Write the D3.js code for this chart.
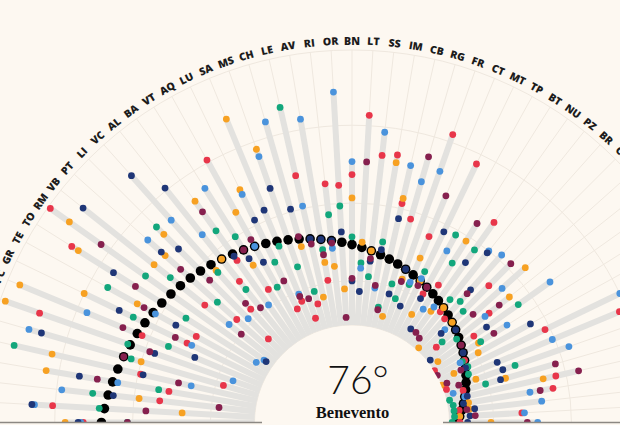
<!DOCTYPE html>
<html><head><meta charset="utf-8">
<script src="https://cdn.jsdelivr.net/npm/d3@7"></script>
<style>
html,body{margin:0;padding:0;background:#fdf8f1;overflow:hidden;}
svg{display:block;}
</style></head><body>
<svg id="chart" width="620" height="425"></svg>
<script>
// Provinces in ranking order (overall rank 48 .. 104), Benevento selected (76°)
const provinces = ["PV","SP","NO","CR","PE","MN","SI","PC","GR","TE","TO","RM","VB","PT","LI","VC","AL","BA","VT","AQ","LU","SA","MS","CH","LE","AV","RI","OR","BN","LT","SS","IM","CB","RG","FR","CT","MT","TP","BT","NU","PZ","BR","CS","CE","AG","SR","NA","PA","ME","EN","RC","VV","TA","FG","KR","CL","SU"];
const overallRank = [48,49,50,51,52,53,54,55,56,57,58,59,60,61,62,63,64,65,66,67,68,69,70,71,72,73,74,75,76,77,78,79,80,81,82,83,84,85,86,87,88,89,90,91,92,93,94,95,96,97,98,99,100,101,102,103,104];
const rankRicchezza = [41,29,70,73,61,93,17,57,74,76,17,2,72,85,99,86,75,68,84,29,96,94,102,97,47,89,52,53,49,26,41,40,58,63,27,67,34,88,82,50,90,91,70,101,77,87,107,95,62,33,106,100,64,66,103,79,103];
const rankAffari = [34,79,62,25,26,60,3,6,30,50,20,11,47,48,42,66,64,40,73,52,45,18,33,74,95,82,84,93,58,75,78,43,56,102,86,76,84,97,62,92,88,106,90,55,67,104,87,89,101,107,94,83,69,99,99,103,91];
const rankAmbiente = [58,47,44,69,11,56,53,68,51,37,69,47,55,75,38,67,79,54,60,85,76,71,81,92,20,77,64,61,73,83,88,74,99,89,94,87,80,62,72,63,84,82,84,98,93,66,86,96,95,96,78,91,106,105,105,105,106];
const rankDemografia = [40,22,32,53,81,15,96,34,76,58,101,103,84,39,88,40,52,89,38,67,47,91,36,24,59,26,77,17,44,85,32,92,43,48,42,86,83,69,93,90,60,58,94,67,79,51,74,97,30,61,56,104,100,75,71,78,73];
const rankGiustizia = [39,21,52,38,62,20,64,79,45,67,36,104,12,46,50,17,29,66,70,74,58,56,49,59,72,73,74,71,90,94,82,77,64,93,82,96,63,90,102,69,61,76,96,91,106,81,94,66,96,84,83,85,99,101,97,99,100];
const rankCultura = [58,65,93,45,76,53,62,49,69,53,46,26,90,56,67,83,88,45,66,64,84,92,94,70,74,79,75,104,89,44,81,91,100,38,87,50,86,85,54,102,103,78,58,82,72,93,80,107,98,105,101,63,55,71,100,97,77];
const categoryNames = ["Ricchezza e consumi","Affari e lavoro","Ambiente e servizi","Demografia e società","Giustizia e sicurezza","Cultura e tempo libero"];
const categoryColors = ["#e8364a","#f7a122","#13a77c","#4a93dc","#1f3677","#86204e"];
const selectedName = "Benevento";
const selectedRank = 76;

const categories = [rankRicchezza, rankAffari, rankAmbiente, rankDemografia, rankGiustizia, rankCultura]
  .map((vals, i) => ({name: categoryNames[i], color: categoryColors[i], values: vals}));

const W = 620, H = 425;
const cx = 352, cy = 422.5;
const svg = d3.select("#chart");

const r = d3.scaleLinear().domain([1, 107]).range([372.5, 97.5]);
const slots = 112;
const angle = d3.scaleLinear().domain([selectedRank, selectedRank + slots]).range([0, 2 * Math.PI]);

const px = (a, rad) => cx + rad * Math.sin(a);
const py = (a, rad) => cy - rad * Math.cos(a);

svg.append("rect").attr("width", W).attr("height", H).attr("fill", "#fdf8f1");

svg.append("defs").append("clipPath").attr("id", "clip")
  .append("rect").attr("x", 0).attr("y", 0).attr("width", W).attr("height", cy);

const g = svg.append("g").attr("clip-path", "url(#clip)");

const rows = provinces.map((p, i) => ({
  code: p, overall: overallRank[i], a: angle(overallRank[i]),
  vals: categories.map(c => ({color: c.color, rank: c.values[i]}))
}));

// rings
const ringRanks = [1, 30, 60, 90, 107];
g.selectAll("circle.ring").data(ringRanks).join("circle")
  .attr("cx", cx).attr("cy", cy).attr("r", d => r(d))
  .attr("fill", "none").attr("stroke", "#efe8df").attr("stroke-width", 1);

// radial grid lines
g.selectAll("line.grid").data(rows).join("line")
  .attr("x1", d => px(d.a, r(107))).attr("y1", d => py(d.a, r(107)))
  .attr("x2", d => px(d.a, r(1))).attr("y2", d => py(d.a, r(1)))
  .attr("stroke", "#efe8df").attr("stroke-width", 1);

// stems
g.selectAll("line.stem").data(rows).join("line")
  .attr("x1", d => px(d.a, r(107))).attr("y1", d => py(d.a, r(107)))
  .attr("x2", d => { const m = d3.min(d.vals, v => v.rank); return px(d.a, r(Math.min(m, d.overall))); })
  .attr("y2", d => { const m = d3.min(d.vals, v => v.rank); return py(d.a, r(Math.min(m, d.overall))); })
  .attr("stroke", "#e3e2df").attr("stroke-width", 6).attr("stroke-linecap", "butt");

// overall rank dots (black)
g.selectAll("circle.overall").data(rows).join("circle")
  .attr("cx", d => px(d.a, r(d.overall))).attr("cy", d => py(d.a, r(d.overall)))
  .attr("r", 4.8).attr("fill", "#000");

// category dots
const dots = rows.flatMap(d => d.vals.map(v => ({a: d.a, rank: v.rank, color: v.color})));
g.selectAll("circle.cat").data(dots).join("circle")
  .attr("cx", d => px(d.a, r(d.rank))).attr("cy", d => py(d.a, r(d.rank)))
  .attr("r", 3.4).attr("fill", d => d.color);

// inner cover
g.append("circle").attr("cx", cx).attr("cy", cy).attr("r", r(107) - 1).attr("fill", "#fdf8f1");

// labels
svg.selectAll("text.lab").data(rows.filter(d => {
    const x = px(d.a, 382), y = py(d.a, 382);
    return x > -4 && x < W + 6 && y < cy;
  })).join("text")
  .attr("transform", d => `translate(${cx},${cy}) rotate(${d.a * 180 / Math.PI}) translate(0,-382)`)
  .attr("text-anchor", "middle").attr("dominant-baseline", "central")
  .style("font-family", "'Open Sans', 'Noto Sans', sans-serif").style("font-weight", 800)
  .style("font-size", "10.5px").attr("fill", "#1c1c1c")
  .text(d => d.code);

// baseline
svg.append("line").attr("x1", 0).attr("x2", cx - 90).attr("y1", cy).attr("y2", cy)
  .attr("stroke", "#8c8883").attr("stroke-width", 1.5);
svg.append("line").attr("x1", cx + 91).attr("x2", W).attr("y1", cy).attr("y2", cy)
  .attr("stroke", "#8c8883").attr("stroke-width", 1.5);

// center label
svg.append("text").attr("x", 358).attr("y", 394).attr("text-anchor", "middle")
  .style("font-family", "Lato, 'Open Sans', sans-serif").style("font-weight", 300)
  .style("font-size", "39px").attr("fill", "#111").text(selectedRank + "°");
svg.append("text").attr("x", 352.5).attr("y", 418).attr("text-anchor", "middle")
  .style("font-family", "'Liberation Serif', 'DejaVu Serif', serif").style("font-weight", 700)
  .style("font-size", "16.5px").attr("fill", "#111").text(selectedName);
</script>
</body></html>
